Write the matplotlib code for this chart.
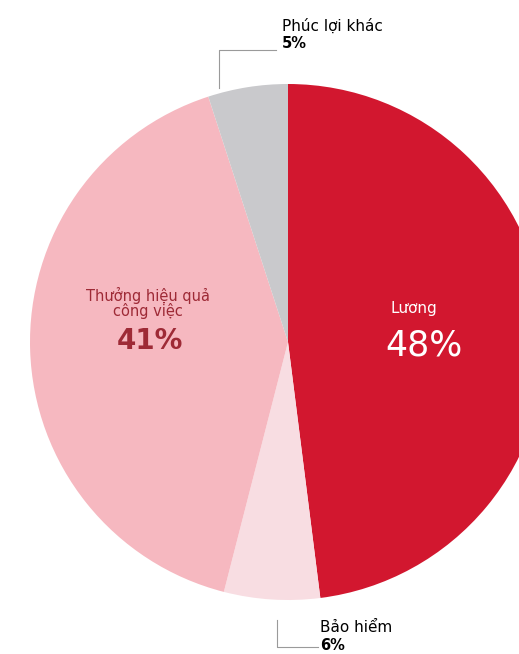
import matplotlib
matplotlib.use('Agg')
import matplotlib.pyplot as plt

# share of total compensation
labels = ['Lương', 'Bảo hiểm', 'Thưởng hiệu quả\ncông việc', 'Phúc lợi khác']
values = [48, 6, 41, 5]
colors = ['#d2172f', '#f8dde2', '#f6b8c0', '#c9c9cc']

W, H = 519, 654
fig = plt.figure(figsize=(W / 100, H / 100), dpi=100)
ax = fig.add_axes([0, 0, 1, 1])

cx, cy, r = 288, H - 342, 258
wedges, _ = ax.pie(values, colors=colors, startangle=90, counterclock=False,
                   center=(cx, cy), radius=r,
                   wedgeprops=dict(linewidth=0))

ax.set_xlim(0, W)
ax.set_ylim(0, H)
ax.set_aspect('equal')
ax.axis('off')

# labels inside the two big slices
ax.text(414, H - 308, labels[0], color='white', fontsize=11,
        ha='center', va='center')
ax.text(424, H - 346, f'{values[0]}%', color='white', fontsize=25,
        ha='center', va='center')
ax.text(148, H - 303, labels[2], color='#9e2a36', fontsize=10.5,
        ha='center', va='center', linespacing=0.85)
ax.text(150, H - 341, f'{values[2]}%', color='#9e2a36', fontsize=20,
        fontweight='bold', ha='center', va='center')

# small slices get callouts outside the pie
line_kw = dict(color='#9a9a9a', lw=0.8)
ax.plot([219, 219, 276], [H - 88, H - 50, H - 50], **line_kw)
ax.text(282, H - 26, labels[3], fontsize=11, fontweight='medium',
        ha='left', va='center')
ax.text(282, H - 44, f'{values[3]}%', fontsize=10.5, fontweight='bold',
        ha='left', va='center')

ax.plot([277, 277, 318], [H - 620, H - 647, H - 647], **line_kw)
ax.text(320, H - 627, labels[1], fontsize=11, fontweight='medium',
        ha='left', va='center')
ax.text(320, H - 645, f'{values[1]}%', fontsize=10.5, fontweight='bold',
        ha='left', va='center')

fig.savefig('out.png', dpi=100)
